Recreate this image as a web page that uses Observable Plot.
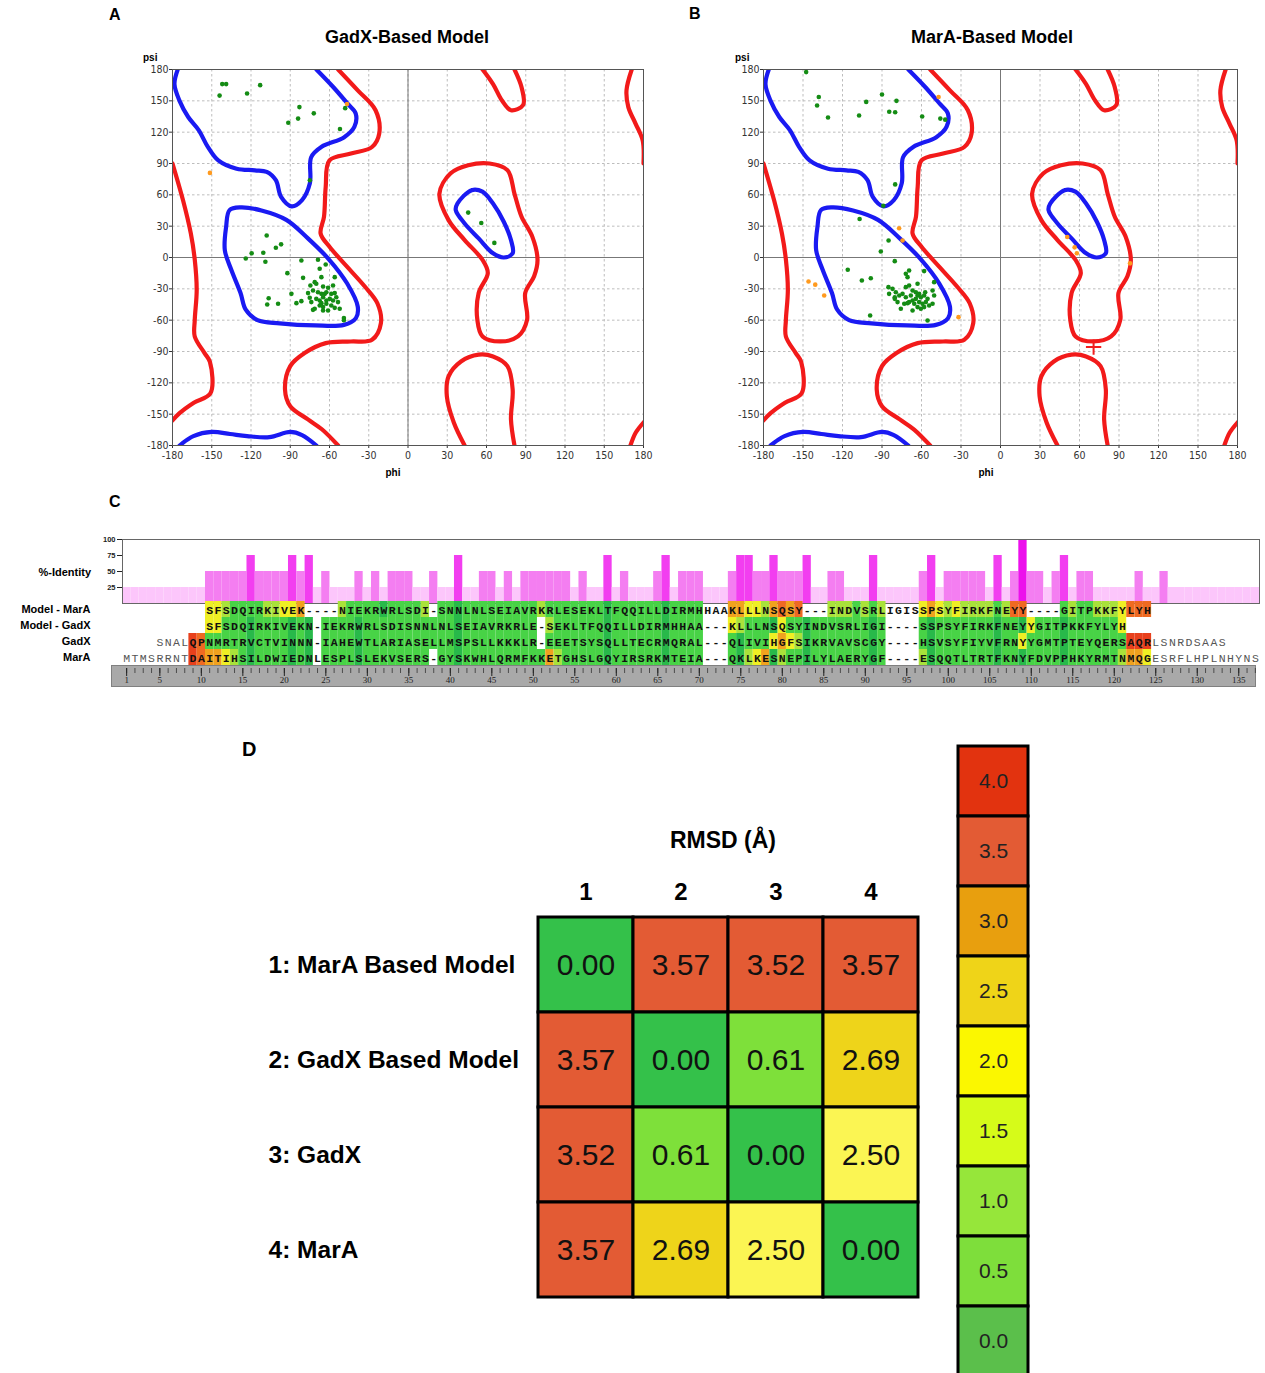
<!DOCTYPE html>
<html><head><meta charset="utf-8">
<script src="https://cdn.jsdelivr.net/npm/d3@7"></script>
<script src="https://cdn.jsdelivr.net/npm/@observablehq/plot@0.6"></script>
<style>
body{margin:0;background:#fff;}
#root{position:relative;width:1265px;height:1373px;overflow:hidden;font-family:"Liberation Sans",Arial,sans-serif;color:#000;background:#fff;}
#root svg{position:absolute;overflow:visible;}
.t{position:absolute;white-space:nowrap;font-weight:bold;line-height:1;}
</style></head><body><div id="root"></div>
<script>
// ---------------- DATA ----------------
const angleTicks = [-180,-150,-120,-90,-60,-30,0,30,60,90,120,150,180];

// Ramachandran contours (phi, psi) — general case, same in both panels
const blueBetaTop = [[-176,180],[-178.5,166],[-174.6,150],[-168,134.5],[-160,122],[-153,106],[-145,93],[-131,85],[-117,83.5],[-108,82],[-101,74],[-97,58],[-89,49],[-81,55],[-75,71],[-74,96],[-66,106],[-49,115],[-41,125],[-40,138],[-46,147],[-57,163],[-70,180]];
const blueBetaBottom = [[-174.6,-180],[-164,-171],[-150,-167],[-136,-169],[-123,-171],[-106,-172],[-90,-167],[-81,-170],[-70,-180]];
const blueAlpha = [[-136.4,45.4],[-128,48],[-112,45],[-93,36],[-76.5,18.3],[-60,-2.4],[-46.6,-24.7],[-38.4,-47],[-39.8,-58],[-49,-64.5],[-71,-65],[-98,-63],[-115,-60],[-124,-50],[-128,-34],[-135,-12],[-140,7],[-139,29.5]];
const blueLeftHanded = [[37.8,51.7],[48.7,64.5],[56.9,63],[65,51.7],[73.2,34.2],[78.7,16.7],[80,4],[73.2,0],[65,4],[54,18.3],[43.3,32.6],[36.5,45.4]];
const redLeftEdge = [[-180,90],[-172,55],[-166,23],[-163,-2],[-161.5,-31],[-163,-60],[-163,-75.6],[-155.5,-91.5],[-151.4,-100],[-151,-130],[-163.7,-139],[-174.6,-149],[-180,-156]];
const redMain = [[-53.4,180],[-38.4,160],[-24.8,141],[-22,118.6],[-27.5,105.8],[-43.6,99.5],[-60,93],[-62.9,67.6],[-64.2,39],[-66.8,23],[-60,10.3],[-46.6,-8.8],[-33,-27.8],[-23.4,-43.8],[-20.7,-62.9],[-27.5,-78.8],[-43.6,-80.4],[-62.9,-82],[-79,-91.5],[-90,-104],[-94,-126.5],[-90,-142.4],[-76.5,-155],[-65.6,-164.7],[-53.4,-180]];
const redTopMid = [[57,180],[65,166],[72,150],[78.7,141],[88,146],[86.8,163],[81.4,180]];
const redLeftHanded = [[24,61],[32.4,80.4],[46,88.3],[62.3,90],[76,83.6],[81.4,61],[86.8,39],[95,20],[99,-2.4],[96.4,-18],[89.6,-34],[91,-59.7],[84,-75.6],[70.5,-80.4],[57,-75.6],[53,-59.7],[54,-34],[61,-15],[57,-2.4],[43.3,16.7],[31,35.8]];
const redBottomMid = [[43.3,-180],[35,-158],[29.7,-133],[31,-113.8],[40.5,-99.5],[54,-93],[65,-94.7],[76,-104],[80,-126.5],[78.7,-155],[81.4,-180]];
const redRightTop = [[171,180],[167,160],[168.4,144],[174,128],[179.4,112],[180,90]];
const redRightBottom = [[170,-180],[174,-167.8],[180,-158]];

// Panel A residues
const gadxFavoured = [[-144,155],[-142,166],[-139,166],[-123,157],[-113,165],[-83,144],[-84,133],[-72,138],[-91.5,129],[-52,123],[-48,143],[-75,74],
 [46,43],[56,33],[66,14],
 [-108,21],[-119.5,4],[-110.6,4.6],[-124,-1],[-109,-4],[-101,9.4],[-97,12.6],[-106.5,-39],[-107.6,-45],[-49,-58],[-49,-60],
 [-81.5,-2.9],[-68.8,-2.2],[-62.9,-6.7],[-67.5,-10.8],[-92.2,-15],[-80.2,-19.5],[-66.2,-18.8],[-56,-18.8],[-71.3,-23.6],[-74.6,-26.8],[-70.1,-25.2],[-64.9,-27.8],[-61.1,-29],[-57.3,-26.8],[-89.1,-34.8],[-76.4,-34.1],[-72.6,-31.6],[-68.8,-33.2],[-66.2,-34.8],[-62.4,-33.2],[-58.6,-34.8],[-56,-34.1],[-99.3,-44.3],[-85.3,-43.7],[-81.5,-41.8],[-73.9,-42.7],[-75.1,-38.6],[-70.1,-39.6],[-67.5,-41.2],[-64.9,-38],[-62.4,-41.2],[-59.8,-39.6],[-57.3,-41.2],[-53.5,-42.7],[-67.5,-45.9],[-64.9,-47.5],[-62.4,-44.3],[-58.6,-45.9],[-56,-48.2],[-71.3,-49.1],[-64.9,-50.7],[-61.1,-50.7],[-52.2,-49.1],[-72.6,-50.1],[-66.2,-43.7],[-63.6,-34.8],[-54.8,-38]];
const gadxAllowed = [[-151.4,81],[-46.6,147]];

// Panel B residues
const maraFavoured = [[-147.6,177.5],[-138,153.6],[-139.3,145.6],[-131,134],[-102,149],[-90,156],[-79,150],[-84.5,139.6],[-80,139],[-107.4,136],[-59.5,135],[-45.7,133],[-42,132],[-80,70],[-89,49.5],
 [-107,36.8],[-85,16.3],[-90.9,5.7],[-80.3,-3.5],[-116,-11.8],[-105.3,-22],[-98.5,-19.8],[-99,-55.5],[-55.4,-60.3],
 [-71.9,-15.6],[-69.4,-12.4],[-70.6,-18.8],[-58,-13],[-63,-25.2],[-50.4,-23.6],[-85.1,-28.4],[-82,-30],[-79.5,-33.2],[-84.6,-34.8],[-80.3,-38],[-76.9,-36.4],[-74.4,-34.8],[-71.9,-28.4],[-69.4,-26.8],[-66.8,-31.6],[-64.3,-33.2],[-61.8,-34.8],[-71.9,-38],[-68.1,-36.4],[-66.8,-41.2],[-64.3,-39.6],[-60.5,-38],[-58,-36.4],[-55.4,-39.6],[-51.6,-31.6],[-50.4,-36.4],[-69.4,-42.7],[-65.5,-44.3],[-61.8,-42.7],[-59.2,-44.3],[-56.7,-42.7],[-54.2,-45.9],[-63,-47.5],[-60.5,-49.1],[-58,-47.5],[-66.8,-50.7],[-75.7,-49.1],[-51.6,-44.3],[-80.3,-39.6],[-78.2,-42.7],[-73.1,-44.3],[-70.6,-43.7],[-63,-36.4],[-57.2,-33.2]];
const maraAllowed = [[-47,153.6],[-77,28],[-74.4,16.3],[-145.8,-23],[-140.7,-26],[-133.9,-36.4],[-31.9,-57.1],[50.7,19.6],[56.3,9.7],[58,4],[98.4,-5.6]];
const maraOutlier = [[70.7,-85.8]];

// Panel C: alignment
const alignRows = ["Model - MarA","Model - GadX","GadX","MarA"];
const alignStart = [11, 11, 5, 1];
const seqModelMarA = "SFSDQIRKIVEK----NIEKRWRLSDI-SNNLNLSEIAVRKRLESEKLTFQQILLDIRMHHAAKLLLNSQSY---INDVSRLIGISSPSYFIRKFNEYY----GITPKKFYLYH";
const seqModelGadX = "SFSDQIRKIVEKN-IEKRWRLSDISNNLNLSEIAVRKRLE-SEKLTFQQILLDIRMHHAA---KLLLNSQSYINDVSRLIGI----SSPSYFIRKFNEYYGITPKKFYLYH";
const seqGadX = "SNALQPNMRTRVCTVINNN-IAHEWTLARIASELLMSPSLLKKKLR-EEETSYSQLLTECRMQRAL---QLIVIHGFSIKRVAVSCGY----HSVSYFIYVFRNYYGMTPTEYQERSAQRLSNRDSAAS";
const seqMarA = "MTMSRRNTDAITIHSILDWIEDNLESPLSLEKVSERS-GYSKWHLQRMFKKETGHSLGQYIRSRKMTEIA---QKLKESNEPILYLAERYGF----ESQQTLTRTFKNYFDVPPHKYRMTNMQGESRFLHPLNHYNS";
// conservation class of each residue (G dark green, g green, l yellow-green, y yellow, o orange, O red-orange, r red, w blank, x unaligned)
const clsModelMarA = "yylggggllyyo"+"wwww"+"lggggGggggl"+"w"+"ggGggggggggg"+"lgggggggGg"+"gggggGgggg"+"www"+"ooyyloOoO"+"www"+"lllglgl"+"wwww"+"yoylyllllglOO"+"wwww"+"glggllly"+"OOO";
const clsModelGadX = "yygggGggggGgG"+"w"+"ggggGgggggggggggGggggggggg"+"w"+"lggggggGggggggGgggg"+"www"+"ylgggGyggGgggggggGg"+"wwww"+"gGgggggggGggGyggg"+"Ggggggg"+"y";
const clsGadX = "xxxx"+"rO"+"gggggGggggGgG"+"w"+"ggggGgggggggggggGggggggggg"+"w"+"gggggggGggggggGgggg"+"www"+"gGgggyoylGgggggggGg"+"wwww"+"gGgggggggGggygggg"+"Ggggggggrrr"+"xxxxxxxxx";
const clsMarA = "xxxxxxxx"+"rOooyl"+"gGggggGgG"+"w"+"ggggGgggggggg"+"w"+"ggG"+"gggggggggg"+"ol"+"ggggg"+"G"+"gggggg"+"G"+"gggg"+"www"+"gGlyoGlggGgggggggGg"+"wwww"+"lGgggggggGggGggggGggggggl"+"ooy"+"xxxxxxxxxxxxx";
const identity = [25,25,25,25,25,25,25,25,25,25, 50,50,50,50,50,75,50,50,50,50, 75,50,75,25,50,25,25,25,50,25, 50,25,50,50,50,25,25,50,25,25, 75,25,25,50,50,25,50,25,50,50, 50,50,50,50,25,50,25,25,75,25, 50,25,25,25,50,75,25,50,50,50, 25,25,25,50,75,75,50,50,75,50, 50,50,75,25,25,50,50,25,25,25, 75,25,25,25,25,25,50,75,25,50, 50,50,50,50,25,75,25,50,100,50, 50,25,50,75,25,50,50,25,25,25, 25,25,50,25,25,50,25,25,25,25, 25,25,25,25,25,25,25];
const identityTicks = [25,50,75,100];
const rulerLabels = [1,5,10,15,20,25,30,35,40,45,50,55,60,65,70,75,80,85,90,95,100,105,110,115,120,125,130,135];

// Panel D: RMSD matrix
const rmsdRows = ["1: MarA Based Model","2: GadX Based Model","3: GadX","4: MarA"];
const rmsdCols = ["1","2","3","4"];
const rmsdValues = [[0.00,3.57,3.52,3.57],[3.57,0.00,0.61,2.69],[3.52,0.61,0.00,2.50],[3.57,2.69,2.50,0.00]];
const rmsdScaleLabels = ["4.0","3.5","3.0","2.5","2.0","1.5","1.0","0.5","0.0"];

// ---------------- HELPERS ----------------
const root = document.getElementById("root");
function put(el, left, top){ el.style.left = left+"px"; el.style.top = top+"px"; root.appendChild(el); return el; }
function text(str, left, top, css){ const d = document.createElement("div"); d.className="t"; d.textContent=str; Object.assign(d.style, css||{}); return put(d,left,top); }

// ---------------- PANELS A & B ----------------
function rama(favoured, allowed, outliers, width, frameW){
  const X = d=>d[0], Y = d=>d[1];
  const blues = [blueBetaTop, blueBetaBottom];
  const bluesClosed = [blueAlpha, blueLeftHanded];
  const reds = [redLeftEdge, redMain, redTopMid, redBottomMid, redRightTop, redRightBottom];
  const redsClosed = [redLeftHanded];
  const lw = 4.2;
  return Plot.plot({
    width, height: 440, marginLeft: 62, marginRight: width-62-frameW, marginTop: 24, marginBottom: 40,
    x: {domain:[-180,180], ticks: angleTicks, tickFormat: d=>String(d), tickSize: 3, tickPadding: 3, label: null},
    y: {domain:[-180,180], ticks: angleTicks, tickFormat: d=>String(d), tickSize: 3, tickPadding: 1, label: null},
    style: {fontSize: "10.5px", fontFamily: "'Liberation Sans Narrow','DejaVu Sans Condensed','Liberation Sans',sans-serif", color: "#333", background: "transparent", overflow: "visible"},
    marks: [
      Plot.ruleX(angleTicks, {stroke: "#b5b5b5", strokeDasharray: "2.5,2.5", strokeWidth: 0.9}),
      Plot.ruleY(angleTicks, {stroke: "#b5b5b5", strokeDasharray: "2.5,2.5", strokeWidth: 0.9}),
      Plot.ruleX([0], {stroke: "#777", strokeWidth: 1}),
      Plot.ruleY([0], {stroke: "#777", strokeWidth: 1}),
      ...reds.map(c => Plot.line(c, {x: X, y: Y, stroke: "#f21a1a", strokeWidth: lw, curve: "catmull-rom", clip: true})),
      ...redsClosed.map(c => Plot.line(c, {x: X, y: Y, stroke: "#f21a1a", strokeWidth: lw, curve: "catmull-rom-closed", clip: true})),
      ...blues.map(c => Plot.line(c, {x: X, y: Y, stroke: "#1a1af2", strokeWidth: lw, curve: "catmull-rom", clip: true})),
      ...bluesClosed.map(c => Plot.line(c, {x: X, y: Y, stroke: "#1a1af2", strokeWidth: lw, curve: "catmull-rom-closed", clip: true})),
      Plot.dot(favoured, {x: X, y: Y, r: 2.3, fill: "#148c14"}),
      Plot.dot(allowed, {x: X, y: Y, r: 2.3, fill: "#ff9a1e"}),
      Plot.dot(outliers, {x: X, y: Y, symbol: "plus", r: 5, stroke: "#f01e1e", strokeWidth: 2}),
      Plot.frame({stroke: "#555", strokeWidth: 1})
    ]
  });
}
put(rama(gadxFavoured, gadxAllowed, [], 550, 471), 110, 45);
put(rama(maraFavoured, maraAllowed, maraOutlier, 553, 474), 701, 45);

text("A", 109, 7, {fontSize:"16px"});
text("B", 689, 6, {fontSize:"16px"});
text("GadX-Based Model", 257, 28, {fontSize:"18px", width:"300px", textAlign:"center"});
text("MarA-Based Model", 842, 28, {fontSize:"18px", width:"300px", textAlign:"center"});
text("psi", 143, 53, {fontSize:"10px"});
text("psi", 735, 53, {fontSize:"10px"});
text("phi", 373, 468, {fontSize:"10px", width:"40px", textAlign:"center"});
text("phi", 966, 468, {fontSize:"10px", width:"40px", textAlign:"center"});

// ---------------- PANEL C ----------------
text("C", 109, 494, {fontSize:"16px"});
text("%-Identity", 0, 567, {fontSize:"11px", width:"91px", textAlign:"right"});

const NCOL = identity.length;
const colX0 = 122, colX1 = 1259;
const identityData = identity.map((v,i)=>({col:i+1, value:v}));
put(Plot.plot({
  width: 1265, height: 75, marginLeft: colX0, marginRight: 1265-colX1, marginTop: 9, marginBottom: 2,
  x: {domain:[0.5, NCOL+0.5], axis: null},
  y: {domain:[0,100], ticks: identityTicks, tickSize: 5, tickPadding: 2, label: null},
  color: {type:"ordinal", domain:[25,50,75,100], range:["#fcc6fb","#f47ef1","#f23ef0","#ec10ec"]},
  style: {fontSize:"7.5px", fontWeight:"bold", fontFamily:"'Liberation Sans',sans-serif", color:"#222", background:"transparent", overflow:"visible"},
  marks: [
    Plot.rect(identityData, {x1: d=>d.col-0.5, x2: d=>d.col+0.5, y1: 0, y2: "value", fill: "value"}),
    Plot.frame({stroke:"#666", strokeWidth: 1})
  ]
}), 0, 530);

const seqs = [seqModelMarA, seqModelGadX, seqGadX, seqMarA];
const clss = [clsModelMarA, clsModelGadX, clsGadX, clsMarA];
const residues = [];
seqs.forEach((s, r) => { for (let i=0;i<s.length;i++) residues.push({row:r, col:alignStart[r]+i, ch:s[i], cls:clss[r][i]||"w"}); });
put(Plot.plot({
  width: 1265, height: 64, marginLeft: colX0, marginRight: 1265-colX1, marginTop: 0, marginBottom: 0,
  x: {domain:[0.5, NCOL+0.5], axis: null},
  y: {domain:[0,4], reverse: true, axis: null},
  color: {type:"ordinal", domain:["G","g","l","y","o","O","r"], range:["#28b94a","#48d346","#a9e23a","#efef24","#f0a21e","#ef6a22","#e8401c"]},
  style: {background:"transparent", overflow:"visible"},
  marks: [
    Plot.rect(residues.filter(d=>d.cls!=="w" && d.cls!=="x"), {x1: d=>d.col-0.5, x2: d=>d.col+0.5, y1: d=>d.row, y2: d=>d.row+1, fill: "cls"}),
    Plot.text(residues.filter(d=>d.cls!=="x"), {x: "col", y: d=>d.row+0.55, text: "ch", fontFamily:"'Liberation Mono',monospace", fontSize: 11.5, fontWeight: "bold", fill: "#111"}),
    Plot.text(residues.filter(d=>d.cls==="x"), {x: "col", y: d=>d.row+0.55, text: "ch", fontFamily:"'Liberation Mono',monospace", fontSize: 11.5, fill: "#555"}),
    Plot.text(alignRows, {y: (d,i)=>i+0.5, text: d=>d, frameAnchor: "left", textAnchor: "end", dx: -32, fontSize: 11, fontWeight: "bold", fontFamily:"'Liberation Sans',sans-serif", fill:"#000"})
  ]
}), 0, 601);

// ruler
const rulerL = 111, rulerR = 1255;
const pxToCol = px => 0.5 + (px-colX0)*NCOL/(colX1-colX0);
const allCols = identity.map((v,i)=>i+1);
put(Plot.plot({
  width: rulerR-rulerL, height: 21, margin: 0,
  x: {domain:[pxToCol(rulerL), pxToCol(rulerR)], axis: null},
  style: {background:"transparent", overflow:"visible"},
  marks: [
    Plot.frame({fill:"#a9a9a9", stroke:"#808080"}),
    Plot.tickX(allCols, {x: d=>d, stroke:"#333", strokeWidth: 0.8, insetTop: 3, insetBottom: 13}),
    Plot.tickX(rulerLabels, {x: d=>d, stroke:"#222", strokeWidth: 1, insetTop: 3, insetBottom: 10}),
    Plot.text(rulerLabels, {x: d=>d, text: d=>String(d), frameAnchor: "bottom", dy: -4, fontSize: 9, fill: "#222", fontFamily:"'Liberation Serif',serif"})
  ]
}), rulerL, 665);

// ---------------- PANEL D ----------------
text("D", 242, 739, {fontSize:"20px"});
text("RMSD (Å)", 573, 829, {fontSize:"23px", width:"300px", textAlign:"center"});

const rmsdCells = [];
rmsdRows.forEach((r,i)=>rmsdCols.forEach((c,j)=>rmsdCells.push({row:r, col:c, value:rmsdValues[i][j]})));
put(Plot.plot({
  width: 680, height: 450, marginLeft: 288, marginRight: 12, marginTop: 57, marginBottom: 13,
  x: {domain: rmsdCols, padding: 0, axis: "top", tickSize: 0, tickPadding: 18, label: null},
  y: {domain: rmsdRows, padding: 0, axis: null},
  color: {type:"ordinal", domain:[0,0.61,2.5,2.69,3.52,3.57], range:["#34c14a","#7ee03a","#fbf553","#eed41a","#e35b34","#e35b34"]},
  style: {fontSize:"24px", fontWeight:"bold", fontFamily:"'Liberation Sans',sans-serif", color:"#000", background:"transparent", overflow:"visible"},
  marks: [
    Plot.cell(rmsdCells, {x:"col", y:"row", fill:"value", stroke:"#000", strokeWidth: 3, inset: 0}),
    Plot.text(rmsdCells, {x:"col", y:"row", text: d=>d.value.toFixed(2), fontSize: 30, fontWeight: "normal", fill:"#111"}),
    Plot.text(rmsdRows, {y: d=>d, text: d=>d, frameAnchor:"left", textAnchor:"start", dx: -270, fontSize: 24.5, fontWeight:"bold", fill:"#000"})
  ]
}), 250, 860);

put(Plot.plot({
  width: 74, height: 650, marginLeft: 2, marginRight: 2, marginTop: 2, marginBottom: 18,
  x: {domain:[0,1], axis: null},
  y: {domain: rmsdScaleLabels, padding: 0, axis: null},
  color: {type:"ordinal", domain: rmsdScaleLabels, range:["#e2330f","#e35b34","#e89f0e","#efd418","#fbf700","#d6fb19","#96e63a","#7ede3b","#5bbf4b"]},
  style: {background:"transparent", overflow:"visible", fontFamily:"'Liberation Sans',sans-serif"},
  marks: [
    Plot.barX(rmsdScaleLabels, {x1: 0, x2: 1, y: d=>d, fill: d=>d, stroke:"#000", strokeWidth: 3, inset: 0}),
    Plot.text(rmsdScaleLabels, {x: 0.5, y: d=>d, text: d=>d, fontSize: 21, fill:"#222"})
  ]
}), 956, 744);
</script></body></html>
